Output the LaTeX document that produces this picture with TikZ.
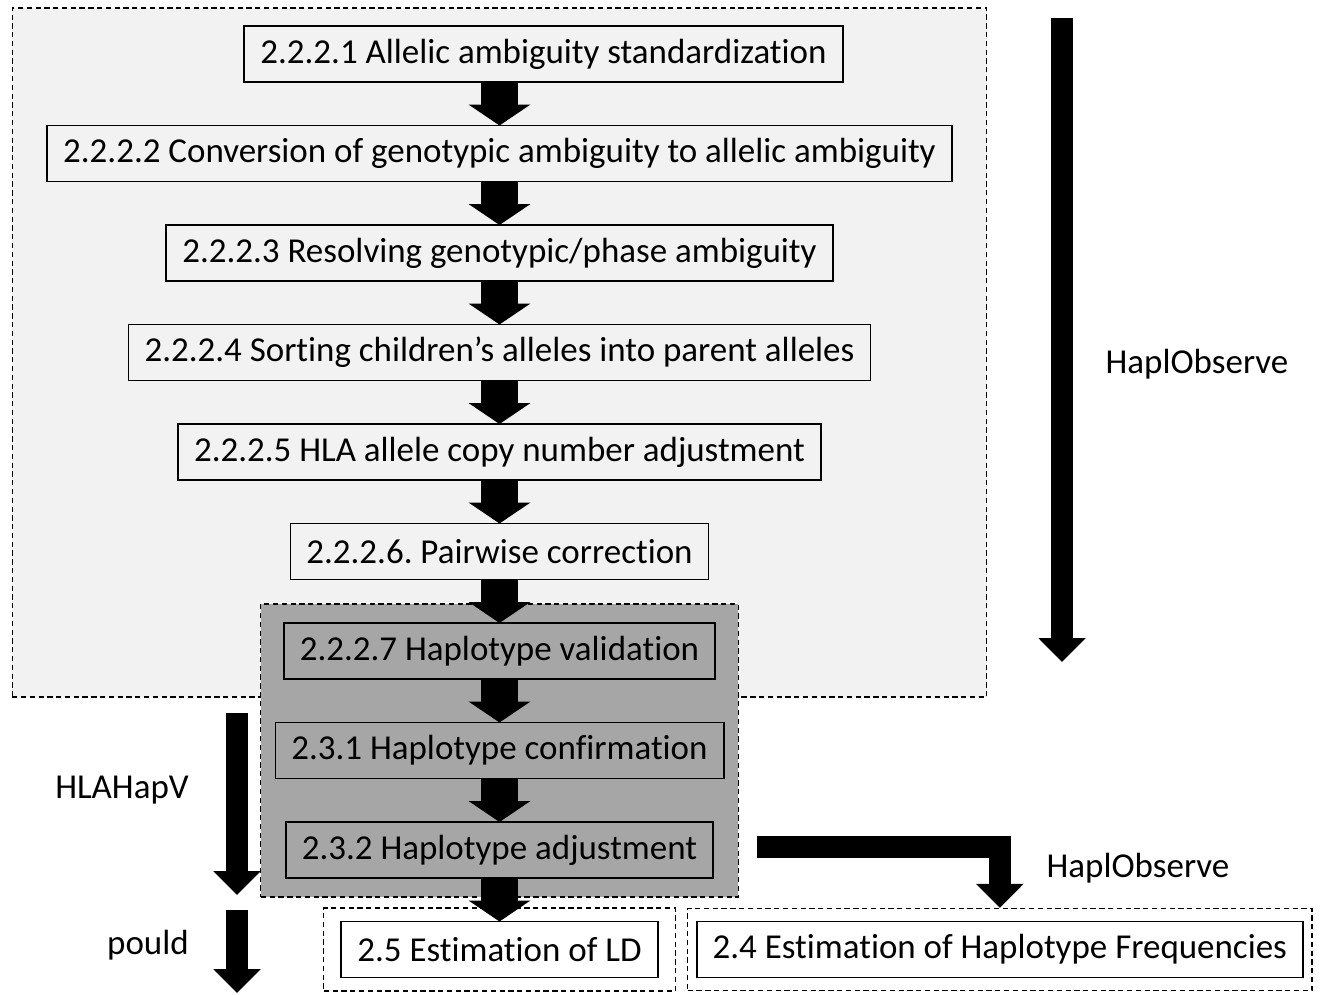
\documentclass[tikz,border=0pt]{standalone}
\usepackage{fontspec}
\setmainfont{Carlito}[Ligatures=NoCommon]
\frenchspacing
\usetikzlibrary{arrows.meta,positioning,fit,backgrounds}
\definecolor{lightpanel}{HTML}{F2F2F2}
\definecolor{darkpanel}{HTML}{A6A6A6}
\tikzset{
  stepbox/.style={
    draw=black,
    line width=1pt,
    align=center,
    minimum height=1.12cm,
    inner xsep=0.32cm,
    inner ysep=2pt,
    outer sep=0pt,
    font=\fontsize{19.9}{24}\selectfont
  },
  groupbox/.style={
    draw=black,
    dash pattern=on 3pt off 2pt,
    line width=0.7pt,
    inner sep=0pt
  },
  steparrow/.style={
    -{Triangle[width=1.22cm,length=0.42cm]},
    line width=0.74cm
  },
  bigarrow/.style={
    -{Triangle[width=0.92cm,length=0.48cm]},
    line width=0.44cm
  },
  toollabel/.style={
    font=\fontsize{19.9}{24}\selectfont,
    inner sep=0pt
  }
}

\begin{document}
\begin{tikzpicture}[node distance=0.87cm]
  \useasboundingbox (0,0) rectangle (26.58,-19.88);
  % HaplObserve steps
  \node[stepbox] (s1) at (10.87,-1.08) {2.2.2.1 Allelic ambiguity standardization};
  \node[stepbox, below=of s1, xshift=-0.88cm] (s2) {2.2.2.2 Conversion of genotypic ambiguity to allelic ambiguity};
  \node[stepbox, below=of s2] (s3) {2.2.2.3 Resolving genotypic/phase ambiguity};
  \node[stepbox, below=of s3] (s4) {2.2.2.4 Sorting children’s alleles into parent alleles};
  \node[stepbox, below=of s4] (s5) {2.2.2.5 HLA allele copy number adjustment};
  \node[stepbox, below=of s5] (s6) {2.2.2.6. Pairwise correction};
  % HLAHapV steps
  \node[stepbox, below=of s6] (s7) {2.2.2.7 Haplotype validation};
  \node[stepbox, below=of s7] (s8) {2.3.1 Haplotype confirmation};
  \node[stepbox, below=of s8] (s9) {2.3.2 Haplotype adjustment};
  % outputs
  \node[stepbox, below=of s9] (ld) {2.5 Estimation of LD};
  \node[stepbox, right=0.78cm of ld] (hf) {2.4 Estimation of Haplotype Frequencies};
  \node[groupbox, fit=(ld), inner xsep=0.35cm, inner ysep=0.27cm] (ldframe) {};
  \node[groupbox, fit=(hf), inner xsep=0.18cm, inner ysep=0.26cm] (hfframe) {};

  \begin{scope}[on background layer]
    \node[groupbox, fill=lightpanel, fit=(s1)(s2)(s7), inner xsep=0.7cm, inner ysep=0.36cm] (observe) {};
    \node[groupbox, fill=darkpanel, fit=(s7)(s8)(s9), inner xsep=0.29cm, inner ysep=0.38cm] (validate) {};
  \end{scope}

  \draw[steparrow] (s1.south -| s2.north) -- (s2.north);
  \foreach \a/\b in {s2/s3, s3/s4, s4/s5, s5/s6, s6/s7, s7/s8, s8/s9, s9/ld}
    \draw[steparrow] (\a.south) -- (\b.north);

  % tool arrows
  \coordinate (obstop) at (21.24,-0.36);
  \coordinate (obsend) at (21.24,-13.24);
  \coordinate (hvtop) at (4.74,-14.26);
  \coordinate (hvend) at (4.74,-17.9);
  \coordinate (pdtop) at (4.74,-18.2);
  \coordinate (pdend) at (4.74,-19.86);
  \coordinate (elbow) at ([xshift=0.88cm,yshift=0.06cm]s9.east);
  \draw[bigarrow] (obstop) -- (obsend);
  \draw[bigarrow] (hvtop) -- (hvend);
  \draw[bigarrow] (pdtop) -- (pdend);
  \draw[bigarrow] (elbow) -| (hfframe.north);

  \node[toollabel] (obslabel) at (23.94,-7.28) {HaplObserve};
  \node[toollabel] (hvlabel) at (2.44,-15.8) {HLAHapV};
  \node[toollabel] (pdlabel) at (2.96,-18.9) {pould};
  \node[toollabel] (obslabel2) at (22.76,-17.36) {HaplObserve};
\end{tikzpicture}
\end{document}
